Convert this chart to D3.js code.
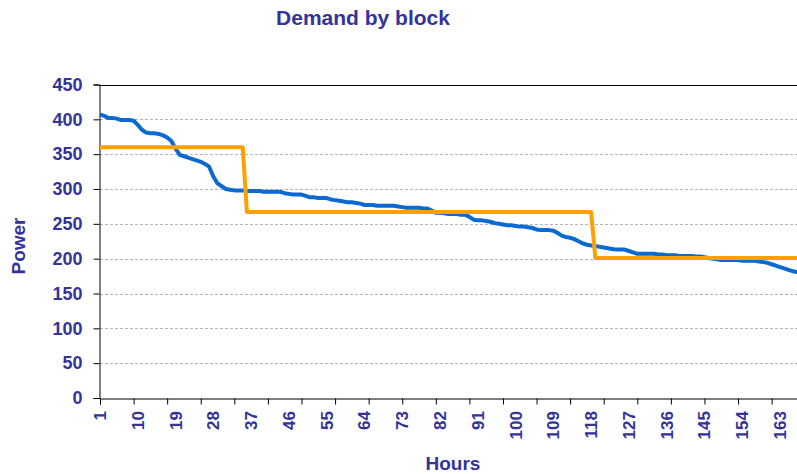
<!DOCTYPE html>
<html>
<head>
<meta charset="utf-8">
<script src="https://cdn.jsdelivr.net/npm/d3@7"></script>
<style>
  body { margin: 0; background: #fff; }
  svg { display: block; font-family: "Liberation Sans", Arial, sans-serif; font-weight: bold; }
</style>
</head>
<body>
<svg width="797" height="474"></svg>
<script>
// hourly demand, sorted high to low (hours 1..168)
const demand = [
    407, 405, 402, 402, 401, 399, 399, 399, 398, 392,
    385, 381, 380, 380, 379, 377, 374, 369, 358, 349,
    347, 345, 343, 341, 339, 336, 332, 318, 308, 304,
    300, 299, 298, 298, 298, 297, 297, 297, 297, 296,
    296, 296, 296, 296, 294, 293, 292, 292, 292, 290,
    288, 288, 287, 287, 287, 285, 284, 283, 282, 281,
    281, 280, 279, 277, 277, 277, 276, 276, 276, 276,
    276, 275, 274, 273, 273, 273, 273, 272, 272, 269,
    266, 266, 265, 264, 264, 264, 263, 263, 260, 256,
    255, 255, 254, 253, 251, 250, 249, 248, 248, 247,
    246, 246, 245, 244, 242, 241, 241, 241, 240, 237,
    233, 231, 230, 228, 225, 222, 220, 219, 218, 217,
    216, 215, 214, 213, 213, 213, 211, 209, 207, 207,
    207, 207, 207, 206, 206, 205, 205, 205, 204, 204,
    204, 204, 203, 203, 202, 201, 200, 199, 198, 198,
    198, 198, 198, 197, 197, 197, 197, 196, 195, 194,
    192, 190, 188, 186, 184, 182, 181, 180
];

// block averages: first hour, last hour, level
const blockStart = [1, 36, 119];
const blockEnd = [35, 118, 168];
const blockLevel = [360, 267, 201];

const yTicks = [0, 50, 100, 150, 200, 250, 300, 350, 400, 450];
const hours = demand.map((d, i) => i + 1);
const labelHours = hours.filter(h => (h - 1) % 9 === 0);
const tickHours = hours.filter(h => (h - 1) % 8 === 0);

const textColor = '#333399';

const svg = d3.select('svg');

const xScale = d3.scaleLinear()
    .domain([1, 168])
    .range([100, 801]);

const yScale = d3.scaleLinear()
    .domain([0, 450])
    .range([398, 84.5]);

// title
svg.append('text')
    .attr('x', 363)
    .attr('y', 25)
    .attr('text-anchor', 'middle')
    .attr('font-size', 21)
    .attr('fill', textColor)
    .text('Demand by block');

// gridlines
svg.append('g')
    .selectAll('line')
    .data(yTicks.filter(d => d > 0 && d < 450))
    .join('line')
    .attr('x1', 100)
    .attr('x2', 801)
    .attr('y1', d => Math.round(yScale(d)) + 0.5)
    .attr('y2', d => Math.round(yScale(d)) + 0.5)
    .attr('stroke', '#b4b4b4')
    .attr('stroke-dasharray', '3,2');

// top border of the plot area
svg.append('line')
    .attr('x1', 99.5).attr('x2', 801)
    .attr('y1', Math.round(yScale(450)) + 0.5)
    .attr('y2', Math.round(yScale(450)) + 0.5)
    .attr('stroke', '#000');

// y-axis
const yAxis = svg.append('g')
    .attr('transform', 'translate(99.5, 0)')
    .call(d3.axisLeft(yScale).tickValues(yTicks).tickSize(6).tickPadding(11));
yAxis.select('.domain').attr('stroke', '#000');
yAxis.selectAll('text')
    .attr('font-size', 18)
    .attr('font-family', null)
    .attr('fill', textColor);

// x-axis: ticks every 8 hours, labels every 9 hours
const xAxis = svg.append('g')
    .attr('transform', 'translate(0, 398.5)')
    .call(d3.axisBottom(xScale).tickValues(tickHours).tickSize(6).tickFormat(''));
xAxis.select('.domain').attr('stroke', '#000');

svg.append('g')
    .selectAll('text')
    .data(labelHours)
    .join('text')
    .attr('transform', d => `translate(${xScale(d)}, 411) rotate(-90)`)
    .attr('text-anchor', 'end')
    .attr('dy', '0.35em')
    .attr('font-size', 17)
    .attr('fill', textColor)
    .text(d => d);

// axis titles
svg.append('text')
    .attr('transform', 'translate(25, 246) rotate(-90)')
    .attr('text-anchor', 'middle')
    .attr('font-size', 19)
    .attr('fill', textColor)
    .text('Power');

svg.append('text')
    .attr('x', 453)
    .attr('y', 470)
    .attr('text-anchor', 'middle')
    .attr('font-size', 19)
    .attr('fill', textColor)
    .text('Hours');

const line = d3.line()
    .x(d => xScale(d.x))
    .y(d => yScale(d.y));

// demand curve
svg.append('path')
    .datum(demand.map((v, i) => ({x: i + 1, y: v})))
    .attr('fill', 'none')
    .attr('stroke', '#0a6ad2')
    .attr('stroke-width', 4)
    .attr('stroke-linejoin', 'round')
    .attr('d', line);

// block levels
const blockPoints = [];
blockLevel.forEach((lvl, i) => {
    blockPoints.push({x: blockStart[i], y: lvl});
    blockPoints.push({x: blockEnd[i], y: lvl});
});

svg.append('path')
    .datum(blockPoints)
    .attr('fill', 'none')
    .attr('stroke', '#ffa000')
    .attr('stroke-width', 4)
    .attr('stroke-linejoin', 'round')
    .attr('d', line);
</script>
</body>
</html>
